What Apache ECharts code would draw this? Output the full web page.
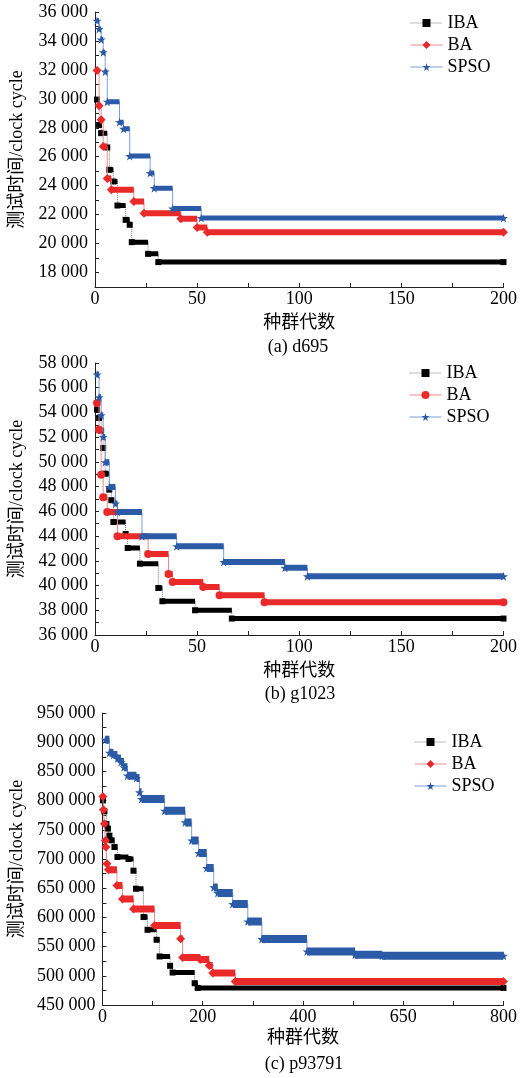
<!DOCTYPE html>
<html>
<head>
<meta charset="utf-8">
<script src="https://cdn.jsdelivr.net/npm/echarts@6/dist/echarts.min.js"></script>
<style>
  html, body { margin: 0; padding: 0; background: #fff; }
  #chart { width: 520px; height: 1078px; }
</style>
</head>
<body>
<div id="chart"></div>
<script>
// step data: [generation where the plateau starts, best test time]
const ibaA = [[1,29950],[2,28200],[3,27630],[6,26640],[7,25100],[9,24290],[11,22630],[15,21640],[17,21300],[18,20100],[26,19290],[31,18720]]
const baA = [[1,31950],[2,29520],[3,28550],[4,26710],[6,24500],[8,23720],[19,22900],[24,22100],[42,21710],[50,21110],[55,20790]]
const spsoA = [[1,35400],[2,34830],[3,34100],[4,33220],[5,31880],[6,29800],[12,28390],[14,27930],[17,26050],[27,24870],[29,23830],[38,22420],[52,21760]]

const ibaB = [[1,54230],[2,53550],[3,52530],[4,51130],[5,49050],[7,47760],[8,46900],[9,45140],[15,44170],[16,43040],[22,41770],[31,39800],[33,38730],[49,38000],[67,37330]]
const baB = [[1,54770],[2,52610],[3,48970],[4,47140],[6,45950],[11,43980],[26,42550],[36,40940],[38,40290],[53,39890],[61,39210],[83,38640]]
const spsoB = [[1,57060],[2,55220],[3,53770],[4,52020],[5,49970],[7,47970],[10,46630],[11,45950],[23,43980],[40,43180],[63,41910],[93,41430],[104,40750]]

const ibaC = [[1,800400],[4,781600],[8,760000],[11,752000],[14,740000],[18,732000],[24,720500],[30,703400],[52,700000],[62,680000],[67,649100],[82,600600],[90,578800],[108,561700],[114,533100],[135,517100],[140,505600],[184,487300],[190,479300]]
const baC = [[1,807000],[2,784400],[4,760400],[6,731800],[7,720500],[9,692000],[12,681600],[29,654800],[40,631400],[62,614300],[104,586300],[156,563500],[160,531500],[195,528000],[213,517800],[220,504600],[265,490300]]
const spsoC = [[6,904300],[14,882000],[22,878000],[30,872000],[37,866000],[43,857000],[50,842700],[68,838700],[74,814100],[78,802700],[124,782700],[165,762700],[178,731800],[192,710200],[208,684500],[222,651400],[230,641700],[260,622800],[290,593100],[318,562900],[408,541700],[504,536000],[558,534300]]

// tick labels
const xTicksAB = [0, 50, 100, 150, 200]
const xTicksC = [0, 200, 400, 600, 800]
const xTickTextC = ['0', '200', '400', '650', '800']
const yTicksA = [18000, 20000, 22000, 24000, 26000, 28000, 30000, 32000, 34000, 36000]
const yTicksB = [36000, 38000, 40000, 42000, 44000, 46000, 48000, 50000, 52000, 54000, 56000, 58000]
const yTicksC = [450000, 500000, 550000, 600000, 650000, 700000, 750000, 800000, 850000, 900000, 950000]

const captions = ['(a) d695', '(b) g1023', '(c) p93791']
const names = ['IBA', 'BA', 'SPSO']

const SERIF = "'Liberation Serif', 'Noto Sans CJK SC', serif"
const STAR = 'path://M50,0 L61,35 L98,35 L68,57 L79,91 L50,70 L21,91 L32,57 L2,35 L39,35 Z'
const black = '#000000', red = '#ea2a2a', blue = '#2b5aa6'
const thin = [
  { color: '#777', width: 1, type: 'dotted' },
  { color: '#f08a8a', width: 1, type: 'solid' },
  { color: '#7d9fd6', width: 1, type: 'solid' }
]

function fmt(v) {
  return String(v).replace(/\B(?=(\d{3})+(?!\d))/g, ' ')
}

// plateau segments, broken with null between them
function plateaus(steps, end) {
  const out = []
  steps.forEach((s, i) => {
    const next = i + 1 < steps.length ? steps[i + 1][0] : end
    out.push([s[0], s[1]], [next, s[1]], [next, null])
  })
  return out
}

function withEnd(steps, end) {
  return steps.concat([[end, steps[steps.length - 1][1]]])
}

function xAxis(idx, max, interval, ticks, text) {
  return {
    type: 'value', gridIndex: idx, min: 0, max: max, interval: interval,
    name: '种群代数', nameLocation: 'middle', nameGap: idx == 2 ? 24 : 27,
    nameTextStyle: { fontFamily: SERIF, fontSize: 18, color: '#000' },
    axisLine: { lineStyle: { color: '#222', width: 1 } },
    axisTick: { inside: true, length: 4, lineStyle: { color: '#222' } },
    axisLabel: {
      margin: 3, fontFamily: SERIF, fontSize: 18, color: '#000',
      formatter: v => {
        const k = ticks.indexOf(v)
        return k < 0 ? '' : (text ? text[k] : String(v))
      }
    },
    splitLine: { show: false }
  }
}

function yAxis(idx, min, max, interval, ticks) {
  return {
    type: 'value', gridIndex: idx, min: min, max: max, interval: interval,
    name: '测试时间/clock cycle', nameLocation: 'middle', nameRotate: 90,
    nameGap: idx == 2 ? 74 : 69,
    nameTextStyle: { fontFamily: SERIF, fontSize: 18, color: '#000' },
    axisLine: { show: true, lineStyle: { color: '#222', width: 1 } },
    axisTick: { inside: true, length: 4, lineStyle: { color: '#222' } },
    axisLabel: {
      margin: 7, fontFamily: SERIF, fontSize: 18, color: '#000',
      formatter: v => ticks.indexOf(v) < 0 ? '' : fmt(v)
    },
    splitLine: { show: false }
  }
}

function panelSeries(p, idx, end, sets, baSymbol, widths) {
  const styles = [
    { color: black, symbol: 'rect', size: 6 },
    { color: red, symbol: baSymbol, size: baSymbol == 'circle' ? 8 : 9 },
    { color: blue, symbol: STAR, size: 9 }
  ]
  const out = []
  sets.forEach((steps, i) => {
    const st = styles[i]
    // thin connector line with markers at each step
    out.push({
      type: 'line', name: p + ':' + names[i], xAxisIndex: idx, yAxisIndex: idx,
      data: withEnd(steps, end), step: 'end',
      symbol: st.symbol, symbolSize: st.size, showSymbol: true,
      lineStyle: thin[i], itemStyle: { color: st.color }, z: 2 + 2 * i
    })
    // dense plateau (thick bar)
    out.push({
      type: 'line', name: p + ':' + names[i] + ':bar', xAxisIndex: idx, yAxisIndex: idx,
      data: plateaus(steps, end), showSymbol: false, symbol: 'none',
      lineStyle: { color: st.color, width: widths[i], cap: 'butt' },
      itemStyle: { color: st.color }, silent: true, z: 3 + 2 * i
    })
  })
  return out
}

function legend(p, left, top) {
  return {
    orient: 'vertical', left: left, top: top, padding: 0,
    itemWidth: 32, itemHeight: 10, itemGap: 4,
    data: names.map((n, i) => ({ name: p + ':' + n, lineStyle: thin[i] })),
    formatter: n => n.split(':')[1],
    textStyle: { fontFamily: SERIF, fontSize: 18, color: '#000', lineHeight: 18 }
  }
}

const chart = echarts.init(document.getElementById('chart'), null, { renderer: 'canvas' })

const option = {
  animation: false,
  backgroundColor: '#fff',
  grid: [
    { left: 93, top: 12, width: 415, height: 275 },
    { left: 93, top: 363, width: 415, height: 272 },
    { left: 98, top: 713, width: 415, height: 292 }
  ],
  xAxis: [
    xAxis(0, 200, 25, xTicksAB),
    xAxis(1, 200, 25, xTicksAB),
    xAxis(2, 800, 100, xTicksC, xTickTextC)
  ],
  yAxis: [
    yAxis(0, 17000, 36000, 1000, yTicksA),
    yAxis(1, 36000, 58000, 1000, yTicksB),
    yAxis(2, 450000, 950000, 25000, yTicksC)
  ],
  legend: [legend('a', 410, 14), legend('b', 409, 364), legend('c', 414, 733)],
  graphic: captions.map((c, i) => ({
    type: 'text', silent: true,
    style: {
      text: c, x: [298, 300, 304][i], y: [347, 694, 1064][i],
      textAlign: 'center', textVerticalAlign: 'middle',
      font: '18px ' + SERIF, fill: '#000'
    }
  })),
  series: [].concat(
    panelSeries('a', 0, 200, [ibaA, baA, spsoA], 'diamond', [5, 6, 5]),
    panelSeries('b', 1, 200, [ibaB, baB, spsoB], 'circle', [5, 6, 6]),
    panelSeries('c', 2, 800, [ibaC, baC, spsoC], 'diamond', [5, 7, 8])
  )
}

chart.setOption(option)
</script>
</body>
</html>
